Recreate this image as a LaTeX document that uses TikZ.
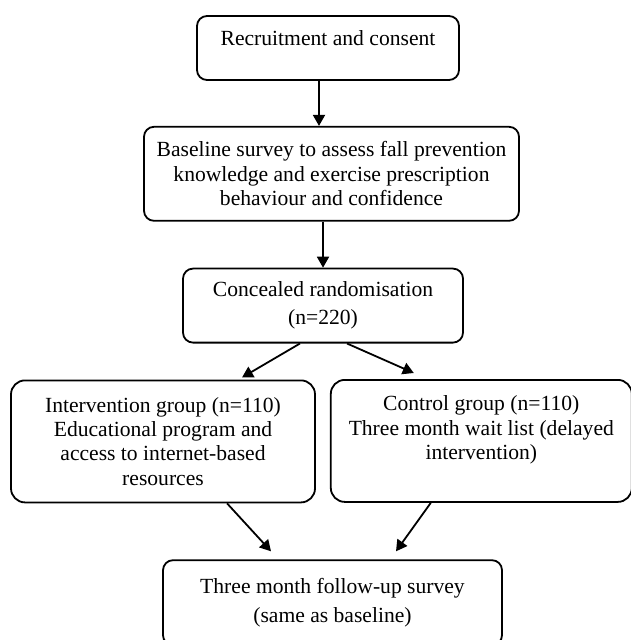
\documentclass[tikz,border=0pt]{standalone}
\usepackage{fontspec}
\setmainfont{Liberation Serif}
\usetikzlibrary{arrows.meta,positioning}

\begin{document}
\begin{tikzpicture}[
    node distance=20pt,
    flowbox/.style={rectangle, draw, line width=0.9pt, rounded corners=5pt, align=center, font=\fontsize{10.8}{12.2}\selectfont},
    flowarrow/.style={-{Triangle[length=5.5pt,width=6pt]}, line width=0.9pt}
]
\useasboundingbox (0,0) rectangle (315pt,-320pt);
\node[flowbox, minimum width=131pt, minimum height=32pt, text depth=9.5pt] (recruit) at (164pt,-24pt) {Recruitment and consent};
\node[flowbox, minimum width=187.5pt, minimum height=47pt] (survey) [below=22.5pt of recruit, xshift=1.75pt] {Baseline survey to assess fall prevention\\knowledge and exercise prescription\\behaviour and confidence};
\node[flowbox, minimum width=140pt, minimum height=37pt] (random) [below=23pt of survey, xshift=-4.25pt] {Concealed randomisation\\[2pt](n=220)};
\node[flowbox, minimum width=152pt, minimum height=61pt, rounded corners=7pt] (interv) [below=18pt of random, xshift=-80pt] {Intervention group (n=110)\\Educational program and\\access to internet-based\\resources};
\node[flowbox, minimum width=150.5pt, minimum height=61pt, rounded corners=7pt] (control) [right=7pt of interv, yshift=0.25pt] {Control group (n=110)\\Three month wait list (delayed\\intervention)\\[1pt]\mbox{}};
\coordinate (split) at (interv.south -| random.south);
\node[flowbox, minimum width=169.5pt, minimum height=42.5pt] (followup) [below=28pt of split, xshift=4.75pt] {Three month follow-up survey\\[2.5pt](same as baseline)};

\draw[flowarrow] ([xshift=-4.5pt]recruit.south) -- ([xshift=-4.5pt]recruit.south |- survey.north);
\draw[flowarrow] (random.north |- survey.south) -- (random.north);
\draw[flowarrow] ([xshift=-11.5pt]random.south) -- ([xshift=39.5pt, yshift=1pt]interv.north);
\draw[flowarrow] ([xshift=12pt]random.south) -- ([xshift=-33.75pt, yshift=3pt]control.north);
\draw[flowarrow] ([xshift=32pt]interv.south) -- ([xshift=-30.75pt, yshift=4pt]followup.north);
\draw[flowarrow] ([xshift=-25.25pt]control.south) -- ([xshift=31.75pt, yshift=4pt]followup.north);
\end{tikzpicture}
\end{document}
